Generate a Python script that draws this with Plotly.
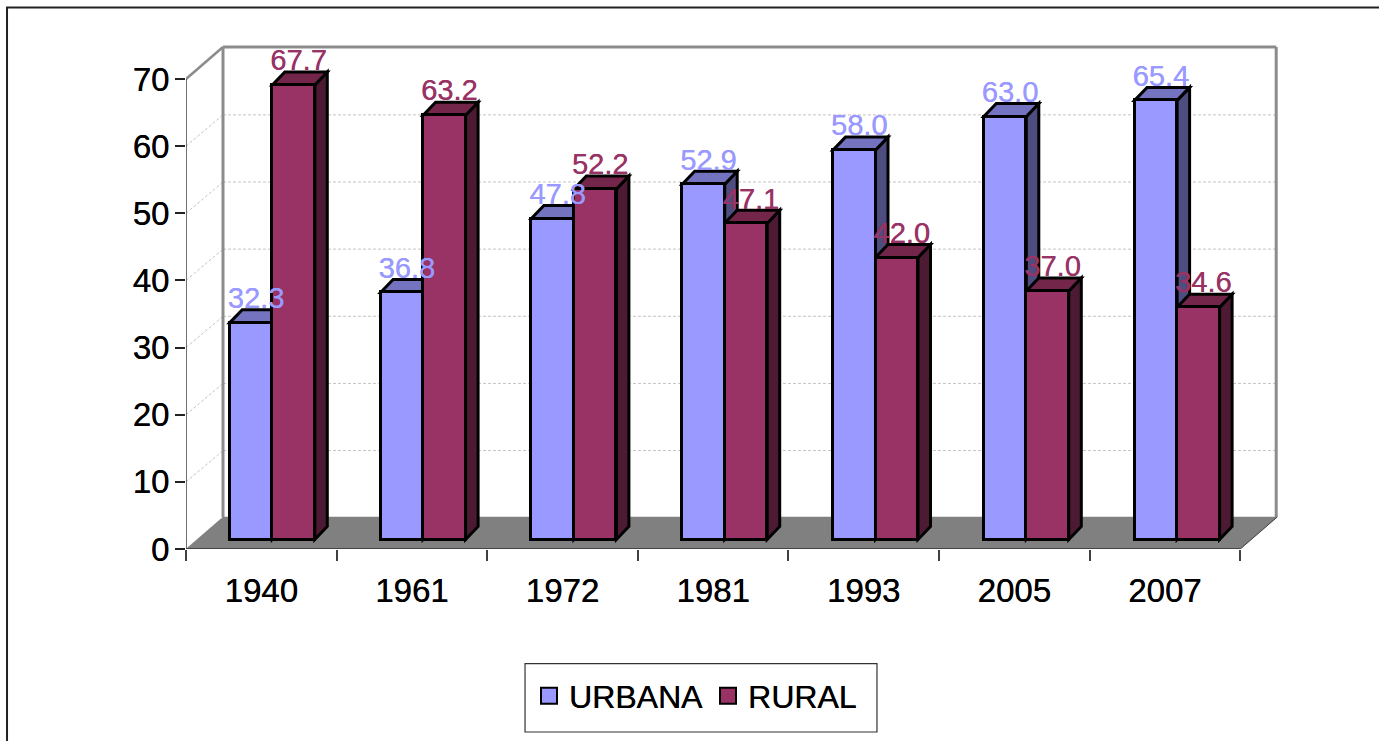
import plotly.graph_objects as go

# ---- data ----
years = ["1940", "1961", "1972", "1981", "1993", "2005", "2007"]
urbana = [32.3, 36.8, 47.8, 52.9, 58.0, 63.0, 65.4]
rural = [67.7, 63.2, 52.2, 47.1, 42.0, 37.0, 34.6]
y_ticks = [0, 10, 20, 30, 40, 50, 60, 70]

# ---- geometry / style ----
W, H = 1379, 741
L, R, T, B = 186, 1280, 40, 549
PX_X = 150.6
PX_Y = 6.714
FONT = "Liberation Sans"
C_U, C_U_TOP, C_U_SIDE = "#9999FF", "#7373BF", "#4D4D80"
C_R, C_R_TOP, C_R_SIDE = "#993366", "#732649", "#4D1A33"
WALL = "#8C8C8C"

ux = lambda p: p / PX_X
uy = lambda p: p / PX_Y
n = len(years)
WALL_DX, WALL_DY = ux(37), uy(32)
BASE_DX, BASE_Y = ux(11), uy(9.5)
BAR_W = ux(42.5)
BAR_STEP = ux(150.8)
DEPTH_X, DEPTH_Y = ux(12.5), uy(13)
x_u = [0.5 + BASE_DX - BAR_W / 2 + i * BAR_STEP for i in range(n)]
x_r = [0.5 + BASE_DX + BAR_W / 2 + i * BAR_STEP for i in range(n)]


def path(points, close=True):
    s = "M " + " L ".join(f"{a:.4f} {b:.4f}" for a, b in points)
    return s + (" Z" if close else "")


def poly(points, fill, line="black", width=3, layer="below"):
    return dict(type="path", xref="x", yref="y", path=path(points), fillcolor=fill,
                line=dict(color=line, width=width), layer=layer)


def seg(p0, p1, color, width=1.0, dash="solid"):
    return dict(type="line", xref="x", yref="y", x0=p0[0], y0=p0[1], x1=p1[0], y1=p1[1],
                line=dict(color=color, width=width, dash=dash), layer="below")


def paper_path(points, close=False, fill=None, color="black", width=1.5):
    pts = [((a - L) / (R - L), (B - b) / (B - T)) for a, b in points]
    d = dict(type="path", xref="paper", yref="paper", path=path(pts, close),
             line=dict(color=color, width=width), layer="below")
    if fill:
        d["fillcolor"] = fill
    return d


shapes = []
# outer frame (open to the right and bottom of the page)
shapes.append(paper_path([(7, H + 5), (7, 7.5), (W + 5, 7.5)], color="#222222", width=2))

# floor
shapes.append(poly([(0, 0), (WALL_DX, WALL_DY), (n + WALL_DX, WALL_DY), (n, 0)], "#808080", line="#808080", width=0.5))

# back wall and grid
for v in y_ticks[1:-1]:
    shapes.append(seg((WALL_DX, v + WALL_DY - uy(0.7)), (n + WALL_DX, v + WALL_DY - uy(0.7)), "#C4C4C4", 1, "3px,2px"))
    shapes.append(seg((0, v), (WALL_DX, v + WALL_DY - uy(0.7)), "#C4C4C4", 1, "3px,2px"))
top = y_ticks[-1]
shapes.append(seg((0, top), (WALL_DX, top + WALL_DY), WALL, 2.5))
shapes.append(seg((WALL_DX, WALL_DY), (WALL_DX, top + WALL_DY), WALL, 3))
shapes.append(seg((WALL_DX, top + WALL_DY), (n + WALL_DX - ux(1), top + WALL_DY), WALL, 3))
shapes.append(seg((n + WALL_DX - ux(1), WALL_DY), (n + WALL_DX - ux(1), top + WALL_DY), WALL, 3))
shapes.append(seg((n, 0), (n + WALL_DX, WALL_DY), "#404040", 1))

# axis lines
shapes.append(seg((0, 0), (0, top), "#404040", 1.5))
shapes.append(seg((0, 0), (n, 0), "#303030", 1.5))


def faces(xs, vals, c_top, c_side):
    out = []
    for x, v in zip(xs, vals):
        x0, x1 = x - BAR_W / 2, x + BAR_W / 2
        y0, y1 = BASE_Y, BASE_Y + v
        out.append(poly([(x1, y0), (x1 + DEPTH_X, y0 + DEPTH_Y), (x1 + DEPTH_X, y1 + DEPTH_Y), (x1, y1)], c_side))
        out.append(poly([(x0, y1), (x0 + DEPTH_X, y1 + DEPTH_Y), (x1 + DEPTH_X, y1 + DEPTH_Y), (x1, y1)], c_top))
    return out


shapes += faces(x_u, urbana, C_U_TOP, C_U_SIDE)
shapes += faces(x_r, rural, C_R_TOP, C_R_SIDE)

# legend box
shapes.append(paper_path([(525, 663.5), (877, 663.5), (877, 732), (525, 732)], close=True, fill="white", color="#333333", width=1.2))

fig = go.Figure()
for name, xs, vals, col in (("URBANA", x_u, urbana, C_U), ("RURAL", x_r, rural, C_R)):
    fig.add_trace(go.Bar(name=name, x=xs, y=vals, base=BASE_Y, width=BAR_W, showlegend=False,
                         marker=dict(color=col, line=dict(color="black", width=3))))
for name, xs, vals, col in (("URBANA", x_u, urbana, C_U), ("RURAL", x_r, rural, C_R)):
    fig.add_trace(go.Scatter(x=[x + ux(5) for x in xs], y=[BASE_Y + v + uy(22) for v in vals],
                             mode="text", text=[f"{v:.1f}" for v in vals], showlegend=False,
                             textposition="middle center", cliponaxis=False, hoverinfo="skip",
                             textfont=dict(family=FONT, size=29, color=col, shadow=f"0.3px 0 0.4px {col}")))
# legend keys
for name, col in (("URBANA", C_U), ("RURAL", C_R)):
    fig.add_trace(go.Scatter(name=name, x=[None], y=[None], mode="markers",
                             marker=dict(symbol="square", size=16, color=col, line=dict(color="black", width=2))))

TEXT_SHADOW = "0.3px 0 0.4px #000"
fig.update_layout(
    width=W, height=H, margin=dict(l=L, r=W - R, t=T, b=H - B, pad=0),
    paper_bgcolor="white", plot_bgcolor="rgba(0,0,0,0)", barmode="overlay", bargap=0,
    font=dict(family=FONT, color="black"), shapes=shapes,
    legend=dict(orientation="h", x=(529 - L) / (R - L), y=(B - 696) / (B - T), xanchor="left", yanchor="middle",
                bgcolor="rgba(0,0,0,0)", borderwidth=0,
                font=dict(family=FONT, size=32, color="black", shadow=TEXT_SHADOW),
                itemclick=False, itemdoubleclick=False),
    xaxis=dict(range=[0, (R - L) / PX_X], tickmode="array", tickvals=[i + 0.5 for i in range(n)], ticktext=years,
               ticks="", showgrid=False, zeroline=False, showline=False, ticklabelstandoff=19,
               tickfont=dict(family=FONT, size=33, color="black", shadow=TEXT_SHADOW),
               minor=dict(tickmode="array", tickvals=list(range(n + 1)), ticks="outside", ticklen=11, tickwidth=1.5,
                          tickcolor="#404040", showgrid=False)),
    yaxis=dict(range=[0, (B - T) / PX_Y], tickmode="array", tickvals=y_ticks, ticks="outside", ticklen=10, tickwidth=1.5,
               tickcolor="#222222", showgrid=False, zeroline=False, showline=False, ticklabelstandoff=-1,
               tickfont=dict(family=FONT, size=33, color="black", shadow=TEXT_SHADOW)),
)

fig.write_html("out.html", config=dict(displayModeBar=False),
               post_script="document.body.style.margin='0';")
